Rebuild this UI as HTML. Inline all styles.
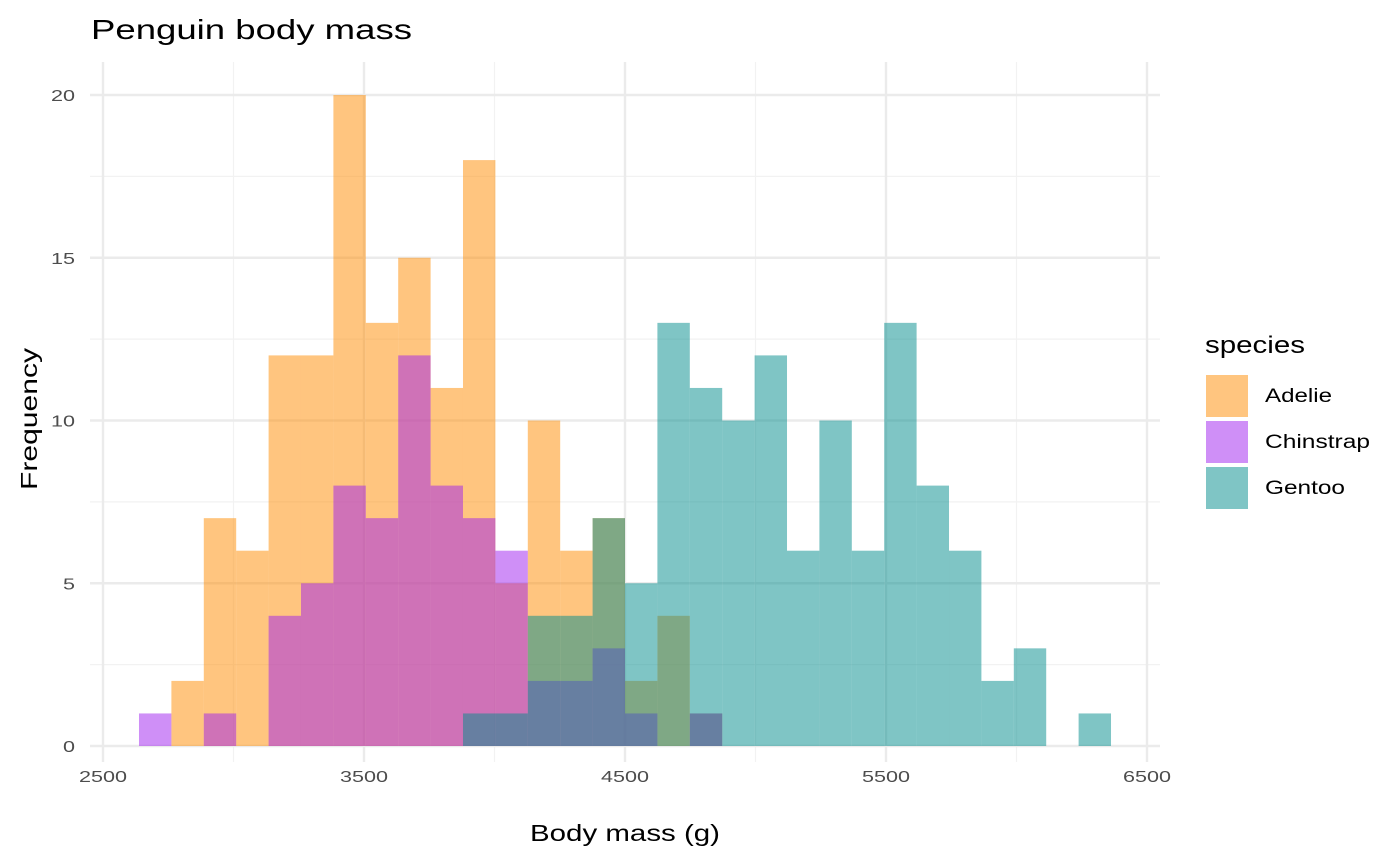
<!DOCTYPE html>
<html><head><meta charset="utf-8">
<style>
html,body{margin:0;padding:0;background:#fff;}
svg{display:block;font-family:"Liberation Sans","DejaVu Sans",sans-serif;}
</style></head>
<body>
<svg id="chart" width="1400" height="865" viewBox="0 0 1400 865">
<text x="91" y="39" font-size="28" textLength="321" lengthAdjust="spacingAndGlyphs" fill="#000">Penguin body mass</text>
<g id="grid"></g>
<g id="bars"></g>
<g id="ticks"></g>
<text x="530" y="841" font-size="23" textLength="190" lengthAdjust="spacingAndGlyphs" fill="#000">Body mass (g)</text>
<text transform="translate(37,490) rotate(-90)" font-size="23" textLength="142" lengthAdjust="spacingAndGlyphs" fill="#000">Frequency</text>
<g>
<text x="1205" y="353" font-size="24" textLength="100" lengthAdjust="spacingAndGlyphs" fill="#000">species</text>
<g><rect x="1206" y="375" width="42" height="42" fill="#FF8C00" fill-opacity="0.5"/><text x="1265" y="402" font-size="19" textLength="67" lengthAdjust="spacingAndGlyphs">Adelie</text></g>
<g><rect x="1206" y="421" width="42" height="42" fill="#A020F0" fill-opacity="0.5"/><text x="1265" y="448" font-size="19" textLength="105" lengthAdjust="spacingAndGlyphs">Chinstrap</text></g>
<g><rect x="1206" y="467" width="42" height="42" fill="#008B8B" fill-opacity="0.5"/><text x="1265" y="494" font-size="19" textLength="80" lengthAdjust="spacingAndGlyphs">Gentoo</text></g>
</g>
</svg>
<script>
const binStart = 2637.9;
const binWidth = 124.14;
const adelie = [0,2,7,6,12,12,20,13,15,11,18,5,10,6,7,2,4,1,0,0,0,0,0,0,0,0,0,0,0,0];
const chinstrap = [1,0,1,0,4,5,8,7,12,8,7,6,2,2,3,1,0,1,0,0,0,0,0,0,0,0,0,0,0,0];
const gentoo = [0,0,0,0,0,0,0,0,0,0,1,1,4,4,7,5,13,11,10,12,6,10,6,13,8,6,2,3,0,1];
const xTicks = [2500,3500,4500,5500,6500];
const xMinor = [3000,4000,5000,6000];
const yTicks = [0,5,10,15,20];
const yMinor = [2.5,7.5,12.5,17.5];

const NS = "http://www.w3.org/2000/svg";
const x = v => 103 + (v - 2500) * (1044 / 4000);
const y = v => 746 - v * (651 / 20);
const X0 = 90, X1 = 1160, Y0 = 62, Y1 = 762;

const grid = document.getElementById('grid');
function line(x1,y1,x2,y2,stroke,w,name){
  const l = document.createElementNS(NS,'line');
  l.setAttribute('x1',x1);l.setAttribute('y1',y1);l.setAttribute('x2',x2);l.setAttribute('y2',y2);
  l.setAttribute('stroke',stroke);l.setAttribute('stroke-width',w);
  
  
  grid.appendChild(l);
}
xMinor.forEach(v=>line(x(v),Y0,x(v),Y1,'#F2F2F2',1.2,'x-minor-gridline'));
yMinor.forEach(v=>line(X0,y(v),X1,y(v),'#F2F2F2',1.2,'y-minor-gridline'));
xTicks.forEach(v=>line(x(v),Y0,x(v),Y1,'#EBEBEB',2.4,'x-major-gridline'));
yTicks.forEach(v=>line(X0,y(v),X1,y(v),'#EBEBEB',2.4,'y-major-gridline'));

const bars = document.getElementById('bars');
function drawSeries(arr,color,name){
  arr.forEach((c,i)=>{
    if(c<=0) return;
    const r = document.createElementNS(NS,'rect');
    const xa = x(binStart + i*binWidth), xb = x(binStart + (i+1)*binWidth);
    r.setAttribute('x',xa);r.setAttribute('width',xb-xa);
    r.setAttribute('y',y(c));r.setAttribute('height',y(0)-y(c));
    r.setAttribute('fill',color);r.setAttribute('fill-opacity','0.5');
    
    
    bars.appendChild(r);
  });
}
drawSeries(adelie,'#FF8C00','adelie');
drawSeries(chinstrap,'#A020F0','chinstrap');
drawSeries(gentoo,'#008B8B','gentoo');

const ticks = document.getElementById('ticks');
function label(tx,ty,txt,anchor,name,len){
  const t = document.createElementNS(NS,'text');
  t.setAttribute('x',tx);t.setAttribute('y',ty);t.setAttribute('font-size','16');
  t.setAttribute('fill','#4D4D4D');t.setAttribute('text-anchor',anchor);
  t.setAttribute('textLength',len);t.setAttribute('lengthAdjust','spacingAndGlyphs');
  t.textContent = txt;
  
  
  ticks.appendChild(t);
}
xTicks.forEach(v=>label(x(v),782,String(v),'middle','x-tick-label',String(v).length*12));
yTicks.forEach(v=>label(75,y(v)+6,String(v),'end','y-tick-label',String(v).length*12));
</script>
</body></html>
